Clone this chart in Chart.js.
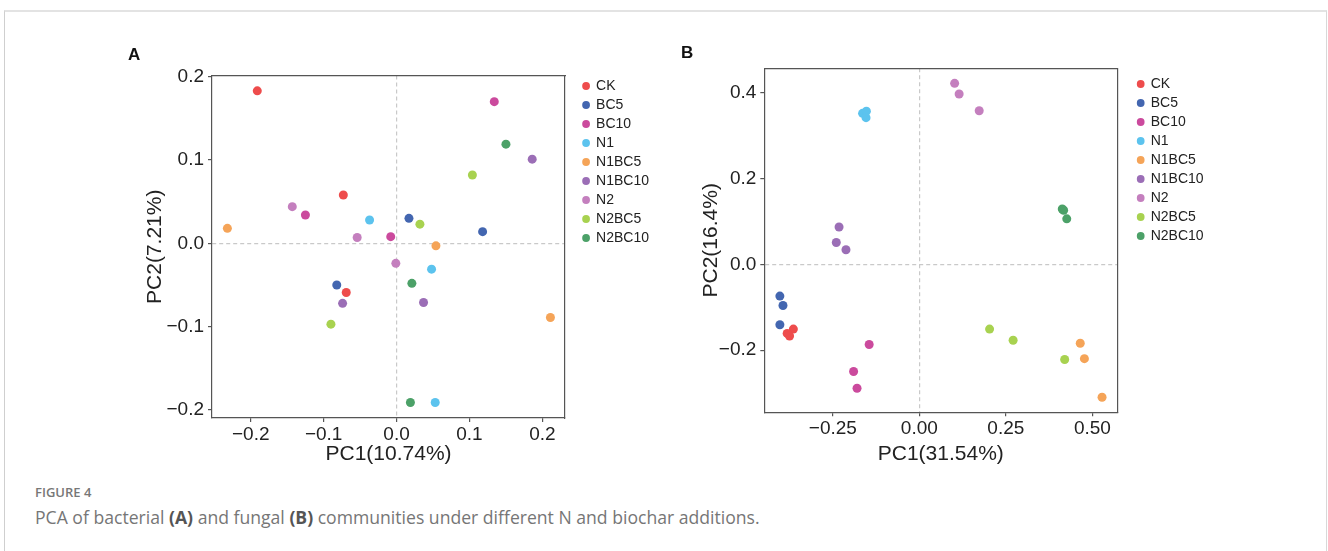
<!DOCTYPE html>
<html>
<head>
<meta charset="utf-8">
<script src="https://cdn.jsdelivr.net/npm/chart.js@4.4.1/dist/chart.umd.min.js"></script>
<style>
  html, body { margin: 0; padding: 0; background: #fff; }
  body { width: 1328px; height: 551px; position: relative; overflow: hidden; font-family: "Liberation Sans", Arial, sans-serif; }
  .frame { position: absolute; left: 4px; top: 10px; width: 1321px; height: 600px; border-top: 2px solid #e3e3e3; border-left: 1px solid #cfcfcf; border-right: 1px solid #d8d8d8; }
  canvas { position: absolute; top: 0; }
  #pcaA { left: 0; }
  #pcaB { left: 680px; }
  .tag { position: absolute; font: bold 17px "Liberation Sans", Arial, sans-serif; color: #111; }
  .fig-no { position: absolute; left: 35px; top: 483px; font: 600 13px "Open Sans", sans-serif; color: #777; }
  .fig-cap { position: absolute; left: 35px; top: 505px; font: 17.6px "Open Sans", sans-serif; color: #767676; white-space: nowrap; }
  .fig-cap b { color: #555; font-weight: 700; }
</style>
</head>
<body>
<div class="frame"></div>
<canvas id="pcaA" width="680" height="480"></canvas>
<canvas id="pcaB" width="648" height="480"></canvas>
<div class="tag" style="left:128px; top:45px;">A</div>
<div class="tag" style="left:681px; top:43px;">B</div>
<div class="fig-no">FIGURE 4</div>
<div class="fig-cap">PCA of bacterial <b>(A)</b> and fungal <b>(B)</b> communities under different N and biochar additions.</div>

<script>
const groups = ["CK", "BC5", "BC10", "N1", "N1BC5", "N1BC10", "N2", "N2BC5", "N2BC10"];
const groupColors = ["#ee4c4c", "#4366b0", "#cb4a9d", "#5cc3ee", "#f5a458", "#9b6eb6", "#c47fbe", "#a8d250", "#4ca168"];

// bacterial communities (panel A), three replicates per group
const bactPC1 = [
    [-0.191, -0.073, -0.069],
    [0.017, 0.118, -0.082],
    [-0.125, 0.134, -0.008],
    [-0.037, 0.048, 0.053],
    [-0.232, 0.054, 0.211],
    [0.186, -0.074, 0.037],
    [-0.143, -0.054, -0.001],
    [0.032, 0.104, -0.090],
    [0.150, 0.021, 0.019],
];
const bactPC2 = [
    [0.183, 0.058, -0.059],
    [0.030, 0.014, -0.050],
    [0.034, 0.170, 0.008],
    [0.028, -0.031, -0.191],
    [0.018, -0.003, -0.089],
    [0.101, -0.072, -0.071],
    [0.044, 0.007, -0.024],
    [0.023, 0.082, -0.097],
    [0.119, -0.048, -0.191],
];

// fungal communities (panel B)
const fungPC1 = [
    [-0.364, -0.382, -0.375],
    [-0.403, -0.394, -0.403],
    [-0.145, -0.190, -0.180],
    [-0.164, -0.153, -0.154],
    [0.465, 0.477, 0.528],
    [-0.232, -0.240, -0.212],
    [0.102, 0.115, 0.173],
    [0.203, 0.271, 0.420],
    [0.413, 0.417, 0.426],
];
const fungPC2 = [
    [-0.151, -0.161, -0.167],
    [-0.074, -0.096, -0.141],
    [-0.187, -0.250, -0.289],
    [0.352, 0.357, 0.342],
    [-0.184, -0.220, -0.310],
    [0.087, 0.051, 0.034],
    [0.422, 0.397, 0.358],
    [-0.151, -0.177, -0.222],
    [0.129, 0.126, 0.106],
];

const textColor = "#222";
const frameColor = "#555";
const fontFamily = "'Liberation Sans', Arial, sans-serif";

function fmtTick(value, digits) {
    const s = Math.abs(value).toFixed(digits);
    return value < -1e-9 ? "\u2212" + s : s;
}

function zeroLine(ctx) {
    return ctx.tick && Math.abs(ctx.tick.value) < 1e-9 ? "#c9c9c9" : "rgba(0,0,0,0)";
}

function frameAxis(position, size) {
    return {
        type: "linear",
        position: position,
        display: true,
        grid: { display: false },
        ticks: { display: false },
        border: { display: true, color: frameColor, width: 1.2 },
        afterFit: (scale) => {
            if (position === "top") {
                scale.height = size;
            } else {
                scale.width = size;
            }
        },
    };
}

function buildPanel(canvasId, pc1, pc2, p) {
    const datasets = groups.map((name, i) => ({
        label: name,
        data: pc1[i].map((x, j) => ({ x: x, y: pc2[i][j] })),
        backgroundColor: groupColors[i],
        pointStyle: "circle",
        pointRadius: 4.5,
        pointHoverRadius: 4.5,
        pointBorderWidth: 0,
    }));

    return new Chart(document.getElementById(canvasId), {
        type: "scatter",
        data: { datasets: datasets },
        options: {
            responsive: false,
            animation: false,
            events: [],
            layout: { padding: p.padding },
            plugins: {
                tooltip: { enabled: false },
                legend: {
                    position: "right",
                    align: "start",
                    title: p.legendTitle,
                    labels: {
                        usePointStyle: true,
                        boxWidth: 6,
                        boxHeight: 5.5,
                        padding: 5,
                        color: textColor,
                        font: { family: fontFamily, size: 14 },
                    },
                },
            },
            scales: {
                x: {
                    type: "linear",
                    position: "bottom",
                    min: p.xMin,
                    max: p.xMax,
                    ticks: {
                        stepSize: p.xStep,
                        includeBounds: false,
                        color: textColor,
                        padding: 1,
                        font: { family: fontFamily, size: 19 },
                        callback: (v) => fmtTick(v, p.xDigits),
                    },
                    grid: { color: zeroLine, tickColor: frameColor, tickLength: 4, lineWidth: 1.2 },
                    border: { display: true, color: frameColor, width: 1.2, dash: [4, 3] },
                    title: {
                        display: true,
                        text: p.xTitle,
                        color: textColor,
                        font: { family: fontFamily, size: 21 },
                        padding: { top: 0, bottom: 13 },
                    },
                    afterFit: (scale) => { scale.height = p.xAxisHeight; },
                },
                y: {
                    type: "linear",
                    position: "left",
                    min: p.yMin,
                    max: p.yMax,
                    ticks: {
                        stepSize: p.yStep,
                        includeBounds: false,
                        color: textColor,
                        padding: 4,
                        font: { family: fontFamily, size: 19 },
                        callback: (v) => fmtTick(v, p.yDigits),
                    },
                    grid: { color: zeroLine, tickColor: frameColor, tickLength: 4, lineWidth: 1.2 },
                    border: { display: true, color: frameColor, width: 1.2, dash: [4, 3] },
                    title: {
                        display: true,
                        text: p.yTitle,
                        color: textColor,
                        font: { family: fontFamily, size: 21 },
                        padding: { top: 0, bottom: 0 },
                    },
                    afterFit: (scale) => { scale.width = p.yAxisWidth; },
                },
                x2: frameAxis("top", p.topGap),
                y2: frameAxis("right", p.rightGap),
            },
        },
    });
}

buildPanel("pcaA", bactPC1, bactPC2, {
    padding: { left: 142.4, top: 74, right: 21, bottom: 0 },
    legendTitle: { display: false },
    xMin: -0.2531, xMax: 0.2311, xStep: 0.1, xDigits: 1,
    yMin: -0.2096, yMax: 0.2014, yStep: 0.1, yDigits: 1,
    xTitle: "PC1(10.74%)", yTitle: "PC2(7.21%)",
    xAxisHeight: 62, yAxisWidth: 69.6, topGap: 1.5, rightGap: 13,
});

buildPanel("pcaB", fungPC1, fungPC2, {
    padding: { left: 19, top: 68, right: 114.4, bottom: 0 },
    legendTitle: { display: true, text: "", font: { size: 1 }, padding: { top: 2.8, bottom: 0 } },
    xMin: -0.448, xMax: 0.572, xStep: 0.25, xDigits: 2,
    yMin: -0.345, yMax: 0.457, yStep: 0.2, yDigits: 1,
    xTitle: "PC1(31.54%)", yTitle: "PC2(16.4%)",
    xAxisHeight: 67.7, yAxisWidth: 65.3, topGap: 0.3, rightGap: 15.4,
});
</script>
</body>
</html>
